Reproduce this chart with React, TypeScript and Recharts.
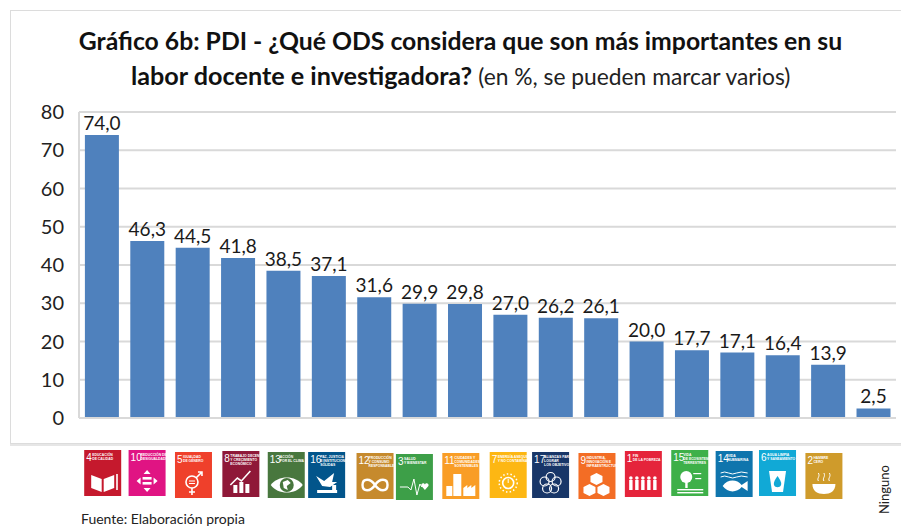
import React from 'react'

//* Recharts
import { Bar, BarChart, CartesianGrid, LabelList, XAxis, YAxis } from 'recharts'

const goals = ['4', '10', '5', '8', '13', '16', '12', '3', '11', '7', '17', '9', '1', '15', '14', '6', '2', 'Ninguno']
const percents = [74.0, 46.3, 44.5, 41.8, 38.5, 37.1, 31.6, 29.9, 29.8, 27.0, 26.2, 26.1, 20.0, 17.7, 17.1, 16.4, 13.9, 2.5]
const yTicks = [0, 10, 20, 30, 40, 50, 60, 70, 80]

const data = goals.map((goal, i) => ({ goal, percent: percents[i] }))

const FONT = 'Lato, "Open Sans", sans-serif'

const iconColors: Record<string, string> = {
    '1': '#e5243b', '2': '#cf9b2b', '3': '#3d9f48', '4': '#c5192d', '5': '#ef402b', '6': '#11a9d6',
    '7': '#fdb713', '8': '#8f1838', '9': '#f36d25', '10': '#e01483', '11': '#f99d26', '12': '#c68a2d',
    '13': '#48773e', '14': '#0f75ad', '15': '#3eb049', '16': '#02558b', '17': '#183668'
}

const iconTitles: Record<string, string[]> = {
    '1': ['FIN', 'DE LA POBREZA'],
    '2': ['HAMBRE', 'CERO'],
    '3': ['SALUD', 'Y BIENESTAR'],
    '4': ['EDUCACIÓN', 'DE CALIDAD'],
    '5': ['IGUALDAD', 'DE GÉNERO'],
    '6': ['AGUA LIMPIA', 'Y SANEAMIENTO'],
    '7': ['ENERGÍA ASEQUIBLE', 'Y NO CONTAMINANTE'],
    '8': ['TRABAJO DECENTE', 'Y CRECIMIENTO', 'ECONÓMICO'],
    '9': ['INDUSTRIA,', 'INNOVACIÓN E', 'INFRAESTRUCTURA'],
    '10': ['REDUCCIÓN DE LAS', 'DESIGUALDADES'],
    '11': ['CIUDADES Y', 'COMUNIDADES', 'SOSTENIBLES'],
    '12': ['PRODUCCIÓN', 'Y CONSUMO', 'RESPONSABLES'],
    '13': ['ACCIÓN', 'POR EL CLIMA'],
    '14': ['VIDA', 'SUBMARINA'],
    '15': ['VIDA', 'DE ECOSISTEMAS', 'TERRESTRES'],
    '16': ['PAZ, JUSTICIA', 'E INSTITUCIONES', 'SÓLIDAS'],
    '17': ['ALIANZAS PARA', 'LOGRAR', 'LOS OBJETIVOS']
}

// the icons were pasted by hand under the bars, so they sit a bit off the ticks
const iconNudge: Record<string, [number, number]> = {
    '4': [1, 0], '10': [0, 0], '5': [1, 2], '8': [3, 1], '13': [3, 2], '16': [-2, 2], '12': [1, 3], '3': [-5, 4], '11': [-4, 3],
    '7': [-2, 2], '17': [-5, 2], '9': [-4, 3], '1': [-3, 1], '15': [-2, 0], '14': [-3, 1], '6': [-5, 0], '2': [-4, 3]
}

const W = '#ffffff'

function Glyph({ goal }: { goal: string }) {
    const line = { fill: 'none', stroke: W, strokeWidth: 1.6 }
    switch (goal) {
        case '1':
            return <g fill={W}>{[6, 12, 18, 24, 30].map(x => (
                <g key={x}><circle cx={x} cy={27} r={1.8} /><rect x={x - 1.7} y={29} width={3.4} height={10} /></g>
            ))}</g>
        case '2':
            return <g>
                <path d="M7 31 H30 C30 38 25 41 18.5 41 C12 41 7 38 7 31 Z" fill={W} />
                <path d="M13 28 C11 25 15 24 13 20 M18.5 28 C16.5 25 20.5 24 18.5 20 M24 28 C22 25 26 24 24 20" {...line} strokeWidth={1} />
            </g>
        case '3':
            return <g>
                <path d="M4 33 H12 L15 36 L18 25 L21 41 L24 30 L26 33" {...line} strokeWidth={1} />
                <path d="M29 36 L25.5 32 C24.5 29.5 28 28 29 30.5 C30 28 33.5 29.5 32.5 32 Z" fill={W} />
            </g>
        case '4':
            return <g>
                <path d="M7 25 L17.5 29 V42 L7 38 Z M30 25 L19.5 29 V42 L30 38 Z" fill={W} />
                <rect x={32} y={24} width={1.6} height={16} fill={W} />
            </g>
        case '5':
            return <g>
                <circle cx={17} cy={30} r={6} {...line} />
                <path d="M17 36 V43 M14 40 H20 M21 26 L27 20 M23 20 H27 V24" {...line} />
                <path d="M14 29 H20 M14 31.5 H20" {...line} strokeWidth={1} />
            </g>
        case '6':
            return <g>
                <path d="M10 21 H27 L24 42 H13 Z" fill={W} />
                <path d="M18.5 26 C15 31 14.5 33 15 35 C16 38 21 38 22 35 C22.5 33 22 31 18.5 26 Z" fill={iconColors['6']} />
            </g>
        case '7':
            return <g>
                <circle cx={18.5} cy={31} r={5.5} {...line} />
                <circle cx={18.5} cy={31} r={9} {...line} strokeWidth={1.5} strokeDasharray="1.5 2.2" />
                <path d="M18.5 27 V31" {...line} strokeWidth={1} />
            </g>
        case '8':
            return <g fill={W}>
                <rect x={11} y={34} width={4} height={8} /><rect x={17} y={31} width={4} height={11} /><rect x={23} y={33} width={4} height={9} />
                <path d="M8 34 L15 27 L19 30 L28 20" {...line} />
            </g>
        case '9':
            return <g fill={W}>
                <path d="M18 20 L24 23 V29 L18 32 L12 29 V23 Z" />
                <path d="M11 31 L17 34 V40 L11 43 L5 40 V34 Z" />
                <path d="M25 31 L31 34 V40 L25 43 L19 40 V34 Z" />
            </g>
        case '10':
            return <g fill={W}>
                <path d="M18.5 20 L22 24 H15 Z M18.5 42 L22 38 H15 Z M8 31 L12 27.5 V34.5 Z M29 31 L25 27.5 V34.5 Z" />
                <rect x={14} y={27} width={9} height={2.6} /><rect x={14} y={32} width={9} height={2.6} />
            </g>
        case '11':
            return <g fill={W}>
                <rect x={11} y={21} width={8} height={22} />
                <rect x={4} y={33} width={6} height={10} />
                <path d="M21 43 V35 L25 32 V35 L29 32 V35 L33 32 V43 Z" />
            </g>
        case '12':
            return <path d="M18.5 32 C14 25 6 25 6 32 C6 39 14 39 18.5 32 C23 25 31 25 31 32 C31 39 23 39 18.5 32 Z" {...line} strokeWidth={2.4} />
        case '13':
            return <g>
                <path d="M3 33 C10 23 28 23 35 33 C28 43 10 43 3 33 Z" fill={W} />
                <circle cx={19} cy={33} r={7} fill={iconColors['13']} />
                <path d="M15 30 L20 28 L23 31 L19 34 L20 38 L16 36 Z" fill={W} />
            </g>
        case '14':
            return <g>
                <path d="M5 22 Q9 20 13 22 T21 22 T32 22 M5 26 Q9 24 13 26 T21 26 T32 26" {...line} strokeWidth={1} />
                <path d="M7 35 C12 28 21 28 26 34 L32 30 V40 L26 36 C21 42 12 42 7 35 Z" fill={W} />
            </g>
        case '15':
            return <g fill={W}>
                <circle cx={15} cy={27} r={6} /><rect x={14} y={31} width={2.4} height={7} />
                <rect x={22} y={23} width={8} height={1.2} /><rect x={24} y={28} width={6} height={1.2} />
                <rect x={6} y={39} width={26} height={1.4} /><rect x={6} y={42} width={26} height={1.4} />
            </g>
        case '16':
            return <g fill={W}>
                <path d="M8 24 L16 29 L26 21 L24 30 L29 30 L22 35 L14 34 Z" />
                <rect x={9} y={38} width={20} height={3} /><rect x={24} y={33} width={4} height={6} />
            </g>
        case '17':
            return <g {...line} strokeWidth={1.2}>
                <circle cx={18.5} cy={25} r={4.5} /><circle cx={12.5} cy={29.5} r={4.5} /><circle cx={24.5} cy={29.5} r={4.5} />
                <circle cx={15} cy={36.5} r={4.5} /><circle cx={22} cy={36.5} r={4.5} />
            </g>
        default:
            return null
    }
}

function OdsTick(props: any) {
    const { x, y, payload } = props
    const goal: string = payload.value

    if (goal === 'Ninguno') {
        return (
            <text x={x + 16} y={y + 88} transform={`rotate(-90 ${x + 16} ${y + 88})`} fontFamily={FONT} fontSize={13} fill="#222222">
                {goal}
            </text>
        )
    }

    const [dx, dy] = iconNudge[goal]
    const titles = iconTitles[goal]
    return (
        <g transform={`translate(${x - 18.5 + dx}, ${y + 24 + dy})`}>
            <rect width={37} height={46} fill={iconColors[goal]} />
            <text x={2} y={11} fontFamily="'Liberation Sans Narrow', sans-serif" fontSize={10} fill={W}>{goal}</text>
            {titles.map((t, i) => (
                <text key={t} x={goal.length > 1 ? 12 : 8} y={5.5 + i * 4} fontFamily="'Liberation Sans Narrow', sans-serif" fontWeight={700} fontSize={3.4} fill={W}>{t}</text>
            ))}
            <Glyph goal={goal} />
        </g>
    )
}

function App() {
    return (
        <div style={{ position: 'absolute', left: 0, top: 0, width: 901, height: 527, overflow: 'hidden', background: '#fff', fontFamily: FONT }}>
            <div style={{ position: 'absolute', left: 10, top: 10, width: 900, height: 434, border: '1px solid #dcdcdc', boxSizing: 'border-box', boxShadow: '0 2px 0 #e6e6e6' }} />

            <div style={{ position: 'absolute', left: 0, top: 23, width: 921, textAlign: 'center', fontSize: 24.75, fontWeight: 700, color: '#111', whiteSpace: 'nowrap', lineHeight: '35px' }}>
                Gráfico 6b: PDI - ¿Qué ODS considera que son más importantes en su
            </div>
            <div style={{ position: 'absolute', left: 131, top: 58, fontSize: 25.2, fontWeight: 700, color: '#111', whiteSpace: 'nowrap', lineHeight: '35px' }}>
                labor docente e investigadora? <span style={{ fontSize: 22.8, fontWeight: 400, color: '#222' }}>(en %, se pueden marcar varios)</span>
            </div>

            <div style={{ position: 'absolute', left: 0, top: 0 }}>
                <BarChart width={901} height={527} data={data} barCategoryGap="13%" margin={{ top: 112, right: 5, bottom: 0, left: 39 }}>
                    <CartesianGrid vertical={false} stroke="#d9d9d9" strokeWidth={2} />
                    <XAxis dataKey="goal" interval={0} height={109} tick={OdsTick} tickLine={false} axisLine={{ stroke: '#d9d9d9', strokeWidth: 2 }} />
                    <YAxis domain={[0, 80]} ticks={yTicks} width={40} tickLine={false} tickSize={0} tickMargin={15}
                        axisLine={{ stroke: '#d9d9d9', strokeWidth: 2 }} tick={{ fontSize: 20, fontFamily: FONT, fill: '#222222' }} />
                    <Bar dataKey="percent" fill="#4f81bd" isAnimationActive={false}>
                        <LabelList dataKey="percent" position="top" offset={5} fontSize={19} fontFamily={FONT} fill="#1a1a1a"
                            formatter={(v: any) => Number(v).toFixed(1).replace('.', ',')} />
                    </Bar>
                </BarChart>
            </div>

            <div style={{ position: 'absolute', left: 81, top: 510, fontSize: 14, lineHeight: '17px', color: '#222', whiteSpace: 'nowrap' }}>
                Fuente: Elaboración propia
            </div>
        </div>
    )
}

export default App
